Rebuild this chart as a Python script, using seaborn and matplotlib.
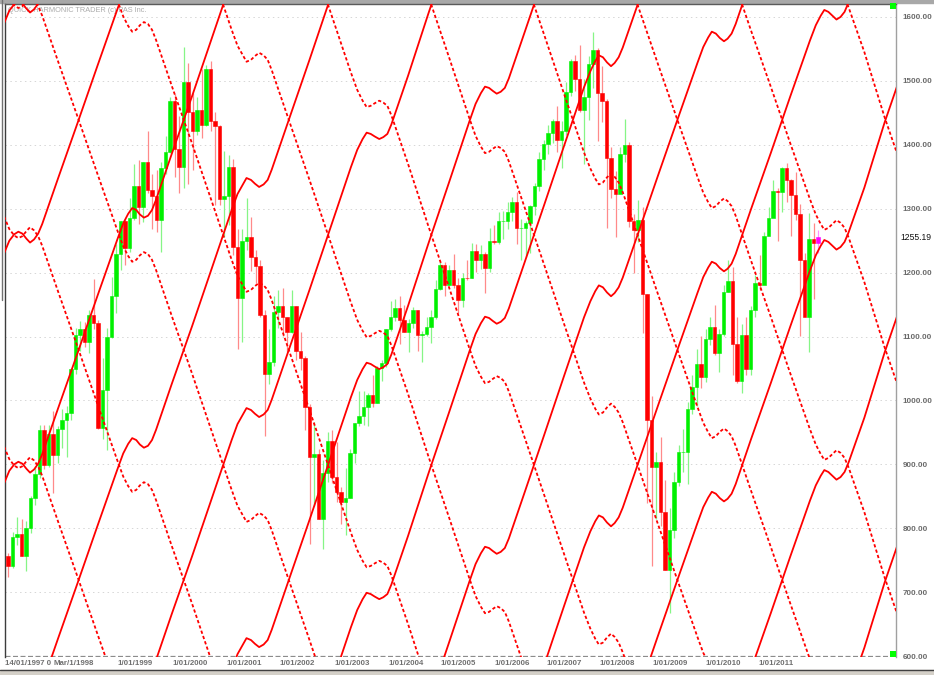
import numpy as np
import pandas as pd
import matplotlib
matplotlib.use("Agg")
import matplotlib.pyplot as plt
from matplotlib.lines import Line2D
from matplotlib.patches import Rectangle
from matplotlib.transforms import blended_transform_factory
import seaborn as sns

# monthly bars, Dec 1996 .. Dec 2011 (x = month index, 0 = Dec 1996)
# bar i goes from LEVELS[i] to LEVELS[i + 1]
LEVELS = [757, 741,
          786, 791, 757, 801, 848, 885, 954, 899, 947, 915, 955, 970,
          980, 1049, 1102, 1112, 1091, 1134, 1121, 957, 1017, 1099, 1164, 1229,
          1280, 1238, 1286, 1335, 1302, 1373, 1329, 1320, 1283, 1363, 1389, 1469,
          1394, 1366, 1499, 1452, 1421, 1455, 1431, 1518, 1437, 1429, 1315, 1320,
          1366, 1240, 1160, 1249, 1256, 1224, 1211, 1134, 1041, 1060, 1139, 1148,
          1130, 1107, 1147, 1077, 1067, 990, 912, 916, 815, 886, 936, 880,
          856, 841, 848, 917, 964, 975, 990, 1008, 996, 1051, 1058, 1112,
          1131, 1145, 1126, 1107, 1121, 1141, 1102, 1104, 1115, 1130, 1174, 1212,
          1181, 1204, 1181, 1157, 1192, 1191, 1234, 1220, 1229, 1207, 1249, 1248,
          1280, 1281, 1295, 1311, 1270, 1270, 1277, 1304, 1336, 1378, 1401, 1418,
          1438, 1407, 1421, 1482, 1531, 1503, 1455, 1474, 1527, 1549, 1481, 1468,
          1379, 1331, 1323, 1386, 1400, 1280, 1267, 1283, 1166, 969, 896, 903,
          826, 735, 798, 873, 919, 919, 987, 1021, 1057, 1036, 1096, 1115,
          1074, 1104, 1169, 1187, 1089, 1031, 1102, 1049, 1141, 1183, 1181, 1258,
          1286, 1327, 1326, 1364, 1345, 1321, 1292, 1219, 1131, 1253, 1247, 1255.19]

HIGHS = [762,
         794, 817, 815, 812, 851, 897, 962, 961, 961, 983, 960, 986,
         992, 1051, 1113, 1124, 1123, 1142, 1190, 1126, 1066, 1113, 1193, 1244,
         1280, 1283, 1316, 1370, 1376, 1373, 1421, 1354, 1361, 1373, 1414, 1475,
         1479, 1445, 1553, 1528, 1481, 1475, 1518, 1525, 1531, 1452, 1431, 1390,
         1384, 1377, 1268, 1269, 1316, 1287, 1236, 1219, 1142, 1111, 1163, 1173,
         1176, 1131, 1173, 1147, 1107, 1070, 994, 966, 924, 907, 951, 954,
         935, 864, 895, 924, 965, 1015, 1015, 1011, 1040, 1054, 1063, 1112,
         1155, 1159, 1163, 1150, 1128, 1146, 1141, 1109, 1131, 1142, 1188, 1217,
         1217, 1212, 1229, 1192, 1199, 1219, 1246, 1245, 1243, 1233, 1270, 1275,
         1295, 1297, 1310, 1319, 1326, 1284, 1280, 1306, 1340, 1389, 1407, 1431,
         1441, 1461, 1438, 1498, 1535, 1541, 1556, 1503, 1539, 1576, 1552, 1524,
         1471, 1396, 1359, 1397, 1440, 1405, 1292, 1314, 1303, 1167, 1007, 919,
         943, 875, 832, 888, 930, 956, 997, 1039, 1080, 1101, 1111, 1130,
         1150, 1112, 1180, 1220, 1209, 1131, 1120, 1130, 1148, 1196, 1227, 1263,
         1303, 1345, 1333, 1365, 1371, 1346, 1357, 1307, 1230, 1293, 1277, 1267]

LOWS = [723,
        737, 773, 756, 733, 793, 836, 879, 893, 896, 855, 902, 925,
        912, 969, 1042, 1077, 1084, 1074, 1112, 955, 939, 923, 1097, 1137,
        1204, 1212, 1232, 1282, 1276, 1279, 1324, 1268, 1263, 1233, 1354, 1387,
        1350, 1325, 1332, 1339, 1361, 1416, 1410, 1429, 1421, 1305, 1305, 1255,
        1274, 1228, 1081, 1092, 1235, 1203, 1184, 1131, 945, 1026, 1054, 1114,
        1101, 1075, 1106, 1063, 1048, 953, 776, 834, 815, 768, 873, 871,
        841, 807, 789, 847, 902, 960, 962, 960, 990, 996, 1031, 1053,
        1108, 1124, 1088, 1107, 1076, 1113, 1078, 1060, 1101, 1090, 1128, 1173,
        1163, 1180, 1176, 1137, 1146, 1188, 1192, 1201, 1205, 1168, 1201, 1245,
        1245, 1253, 1268, 1280, 1245, 1219, 1224, 1231, 1290, 1327, 1360, 1386,
        1403, 1389, 1364, 1416, 1476, 1484, 1451, 1370, 1439, 1489, 1406, 1435,
        1270, 1316, 1256, 1325, 1373, 1272, 1200, 1248, 1106, 840, 741, 815,
        804, 734, 667, 784, 866, 888, 869, 979, 991, 1020, 1029, 1086,
        1071, 1044, 1101, 1170, 1040, 1028, 1011, 1040, 1039, 1131, 1173, 1186,
        1262, 1289, 1249, 1295, 1311, 1258, 1282, 1101, 1136, 1075, 1158, 1231]

LAST_PRICE = 1255.19

# harmonic curves: one traced rising curve and one traced falling curve,
# repeated every 360 points up/down the chart
CURVE_M = [-5.5, -1.0, 0.3, 1.4,
           2.3, 3.2, 4.1, 4.9, 5.8, 6.7, 7.6, 11.1, 15.5, 19.9, 24.3, 25.6, 26.7,
           27.6, 28.5, 29.3, 30.2, 31.1, 32.0, 32.9, 36.4, 40.9, 45.3, 49.7, 51.0, 52.2,
           53.0, 54.0, 54.9, 55.8, 56.8, 57.7, 58.6, 62.3, 67.0, 71.6, 76.2, 77.6, 78.8,
           79.7, 80.6, 81.5, 82.5, 83.4, 84.3, 85.2, 88.9, 93.4, 98.0, 102.6, 103.9, 105.1,
           106.0, 106.9, 107.8, 108.6, 109.5, 110.4, 111.3, 114.8, 119.2, 123.6, 128.0, 129.4, 130.5,
           131.3, 132.2, 133.1, 134.0, 134.8, 135.7, 136.6, 140.1, 144.4, 148.8, 153.2, 154.5, 155.6,
           156.4, 157.3, 158.2, 159.1, 159.9, 160.8, 161.7, 165.1, 169.5, 173.8, 178.2, 179.5, 180.6,
           181.4, 182.3, 183.2, 184.1, 185.0, 185.9, 186.8, 190.3, 194.8, 199.2]

SOLID_V = [766, 868, 890, 900,
           904, 901, 893, 887, 892, 901, 916, 987, 1075, 1164, 1252, 1277, 1292,
           1301, 1298, 1291, 1286, 1289, 1298, 1314, 1386, 1476, 1567, 1658, 1683, 1698,
           1708, 1705, 1699, 1694, 1698, 1705, 1721, 1797, 1893, 1989, 2085, 2112, 2129,
           2139, 2137, 2133, 2129, 2132, 2137, 2152, 2228, 2325, 2421, 2518, 2544, 2561,
           2571, 2569, 2564, 2560, 2563, 2569, 2584, 2656, 2747, 2839, 2930, 2955, 2971,
           2980, 2977, 2969, 2963, 2968, 2977, 2992, 3063, 3151, 3240, 3328, 3353, 3368,
           3377, 3374, 3367, 3362, 3366, 3374, 3389, 3459, 3547, 3635, 3723, 3747, 3762,
           3771, 3768, 3762, 3756, 3760, 3768, 3783, 3853, 3955, 4045]

DASH_V = [2112, 2010, 1988, 1978,
          1974, 1977, 1985, 1991, 1986, 1977, 1962, 1891, 1803, 1714, 1626, 1601, 1586,
          1577, 1580, 1587, 1592, 1589, 1580, 1564, 1492, 1402, 1311, 1220, 1195, 1180,
          1170, 1173, 1179, 1184, 1180, 1173, 1157, 1081, 985, 889, 793, 766, 749,
          739, 741, 745, 749, 746, 741, 726, 650, 553, 457, 360, 334, 317,
          307, 309, 314, 318, 315, 309, 294, 222, 131, 39, -52, -77, -93,
          -102, -99, -91, -85, -90, -99, -114, -185, -273, -362, -450, -475, -490,
          -499, -496, -489, -484, -488, -496, -511, -581, -669, -757, -845, -869, -884,
          -893, -890, -884, -878, -882, -890, -905, -975, -1077, -1167]

SOLID_SHIFT = [-3240, -2880, -2520, -2160, -1800, -1440, -1080, -720, -360, 0, 360, 720]
DASH_SHIFT = [-1080, -720, -360, 0, 360, 720, 1080, 1440, 1800, 2160, 2520]

# date labels, left edge at the tick; the first two are the overprinted ones
TICK_POS = [-0.6, 10.0, 24.4, 36.5, 48.6, 60.4, 72.5, 84.5, 96.2, 108.0,
            119.7, 131.4, 143.3, 155.0, 166.7]
TICK_LABELS = ["14/01/1997 0", "Mar/1/1998"] + ["1/01/%d" % y for y in range(1999, 2012)]
Y_TICKS = [600, 700, 800, 900, 1000, 1100, 1200, 1300, 1400, 1500, 1600]

sns.set_style("white")
plt.rcParams["font.family"] = ["Liberation Sans", "DejaVu Sans"]

fig = plt.figure(figsize=(9.34, 6.75), dpi=100)
ax = fig.add_axes([5 / 934, 18 / 675, 891 / 934, 653 / 675])

# grid
for t in Y_TICKS[1:]:
    ax.axhline(t, color="#D6D6D6", lw=0.7, ls=(0, (1.5, 3.5)), zorder=1)
ax.axhline(600, color="#8C8C8C", lw=0.9, ls=(0, (4, 2)), zorder=1)

# candles
opens = np.array(LEVELS[:-1], dtype=float)
closes = np.array(LEVELS[1:], dtype=float)
months = np.arange(len(closes))
up = closes >= opens
body_col = np.where(up, "#00F000", "#FF0000").astype(object)
wick_col = np.where(up, "#86F586", "#FF8A8A").astype(object)
body_col[-1] = "#FF00FF"
wick_col[-1] = "#FF90FF"

ax.vlines(months, LOWS, HIGHS, colors=list(wick_col), lw=0.9, zorder=2)
ax.bar(months, closes - opens, bottom=opens, width=0.88, color=list(body_col),
       edgecolor=list(body_col), linewidth=0.4, zorder=3)

# harmonic curves
solid = pd.concat([pd.DataFrame({"m": CURVE_M, "v": np.array(SOLID_V) + s, "copy": i})
                   for i, s in enumerate(SOLID_SHIFT)])
dashed = pd.concat([pd.DataFrame({"m": CURVE_M, "v": np.array(DASH_V) + s, "copy": i})
                    for i, s in enumerate(DASH_SHIFT)])
sns.lineplot(data=solid, x="m", y="v", units="copy", estimator=None, color="#FF0000",
             lw=1.3, legend=False, ax=ax, zorder=4)
sns.lineplot(data=dashed, x="m", y="v", units="copy", estimator=None, color="#FF0000",
             lw=1.3, linestyle=(0, (1.8, 1.3)), legend=False, ax=ax, zorder=4)

# markers on the right edge
ax.scatter([196.7, 196.7], [1616.5, 602.5], marker="s", s=24, color="#00FF00",
           linewidths=0, clip_on=False, zorder=6)

ax.set_xlim(-0.667, 197.33)
ax.set_ylim(598.5, 1620.3)
ax.set_xlabel("")
ax.set_ylabel("")

# y axis on the right
ax.yaxis.tick_right()
ax.set_yticks(Y_TICKS, ["%.2f" % t for t in Y_TICKS])
ax.tick_params(axis="y", length=0, pad=5, labelsize=5.8, labelcolor="#6A6A6A")
for lbl in ax.get_yticklabels():
    lbl.set_fontweight("bold")

# x axis
ax.set_xticks(TICK_POS, TICK_LABELS)
ax.tick_params(axis="x", length=0, pad=2.5, labelsize=5.7, labelcolor="#707070")
for lbl in ax.get_xticklabels():
    lbl.set_fontweight("bold")
    lbl.set_horizontalalignment("left")

for side, col in [("left", "#3C3C3C"), ("top", "#5A5A5A"), ("right", "#A0A0A0")]:
    ax.spines[side].set_visible(True)
    ax.spines[side].set_color(col)
    ax.spines[side].set_linewidth(1)
ax.spines["bottom"].set_visible(False)

trans = blended_transform_factory(ax.transAxes, ax.transData)
ax.text(1.0045, LAST_PRICE, "%.2f" % LAST_PRICE, transform=trans, ha="left",
        va="center", fontsize=6.2, color="#111111")
ax.text(0.003, 1 - 6 / 653, "QUICK HARMONIC TRADER (c) PAS Inc.", transform=ax.transAxes,
        ha="left", va="center", fontsize=5.3, color="#ABABAB", zorder=0.5)

# window frame bits
fig.add_artist(Rectangle((0, 1 - 3 / 675), 1, 3 / 675, transform=fig.transFigure,
                         color="#A8A8A8", zorder=0))
fig.add_artist(Rectangle((0, 0), 1, 5 / 675, transform=fig.transFigure,
                         color="#D4D0C8", zorder=0))
fig.add_artist(Line2D([0, 1], [5 / 675, 5 / 675], transform=fig.transFigure,
                      color="#404040", lw=1))
fig.add_artist(Line2D([1.5 / 934, 1.5 / 934], [1, 1 - 300 / 675], transform=fig.transFigure,
                      color="#707070", lw=1))

fig.savefig("out.png", dpi=100)
